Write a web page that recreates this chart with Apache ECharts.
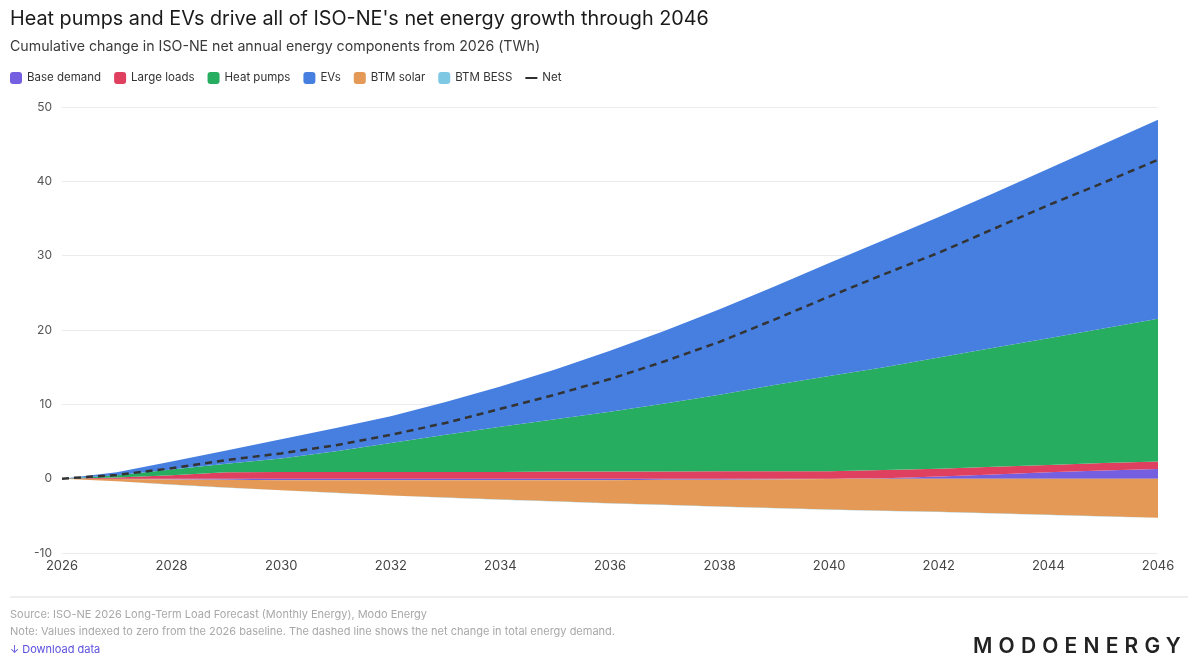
<!DOCTYPE html>
<html>
<head>
<meta charset="utf-8">
<script src="https://cdn.jsdelivr.net/npm/echarts@6/dist/echarts.min.js"></script>
<style>
html,body{margin:0;padding:0;background:#fff;}
#chart{width:1200px;height:664px;position:relative;}
#logo{position:absolute;left:973px;top:633px;font-family:Inter,sans-serif;font-weight:600;font-size:21px;letter-spacing:6.2px;color:#222;}
</style>
</head>
<body>
<div id="chart"></div>
<div id="logo">MODOENERGY</div>
<script>
const years = ['2026','2027','2028','2029','2030','2031','2032','2033','2034','2035','2036','2037','2038','2039','2040','2041','2042','2043','2044','2045','2046'];
const baseDemand = [0,-0.05,-0.1,-0.15,-0.2,-0.2,-0.2,-0.2,-0.2,-0.2,-0.2,-0.15,-0.15,-0.1,-0.05,0.05,0.3,0.55,0.85,1.1,1.3];
const largeLoads = [0,0.15,0.45,0.85,0.9,0.9,0.9,0.9,0.9,0.95,0.95,0.95,1.0,1.0,1.0,1.1,1.05,1.05,1.0,1.0,1.0];
const heatPumps = [0,0.3,0.8,1.15,1.8,2.8,3.9,5.0,6.1,7.05,8.05,9.15,10.3,11.6,12.8,13.85,14.95,16.0,17.05,18.1,19.2];
const evs = [0,0.4,1.05,1.8,2.6,3.1,3.6,4.4,5.4,6.7,8.2,9.8,11.5,13.25,15.2,17.1,18.9,20.8,22.8,24.8,26.8];
const btmSolar = [0,-0.3,-0.7,-1.05,-1.35,-1.7,-2.05,-2.35,-2.6,-2.85,-3.1,-3.35,-3.6,-3.85,-4.1,-4.3,-4.45,-4.65,-4.85,-5.05,-5.25];
const btmBess = [0,0,-0.01,-0.01,-0.02,-0.02,-0.02,-0.03,-0.03,-0.03,-0.03,-0.04,-0.04,-0.04,-0.04,-0.05,-0.05,-0.05,-0.05,-0.05,-0.05];
const net = [0,0.5,1.4,2.5,3.4,4.5,5.9,7.5,9.4,11.3,13.4,15.8,18.4,21.4,24.5,27.5,30.4,33.6,36.8,39.8,42.9];
const yTicks = {min:-10, max:50, interval:10};

const C = {bd:'#735fe0', ll:'#e04060', hp:'#27ad5f', ev:'#467fe0', solar:'#e49a56', bess:'#7ec8e3', net:'#333333'};
const FONT = 'Inter, sans-serif';

function area(name, data, color){
  return {name, type:'line', stack:'total', data, showSymbol:false, symbol:'none',
    lineStyle:{width:0, color}, itemStyle:{color}, areaStyle:{color, opacity:1}, emphasis:{disabled:true}};
}

const chart = echarts.init(document.getElementById('chart'), null, {renderer:'canvas'});
chart.setOption({
  animation:false,
  backgroundColor:'#fff',
  title:[
    {text:"Heat pumps and EVs drive all of ISO-NE's net energy growth through 2046", left:5, top:4,
     textStyle:{fontFamily:FONT, fontSize:19.8, fontWeight:400, color:'#1a1a1a'}},
    {text:'Cumulative change in ISO-NE net annual energy components from 2026 (TWh)', left:5, top:35,
     textStyle:{fontFamily:FONT, fontSize:14.2, fontWeight:400, color:'#3a3a3a'}}
  ],
  legend:{
    left:5, top:67, itemWidth:12, itemHeight:12, itemGap:13,
    textStyle:{fontFamily:FONT, fontSize:11.5, color:'#333'},
    data:[
      {name:'Base demand', icon:'roundRect'},
      {name:'Large loads', icon:'roundRect'},
      {name:'Heat pumps', icon:'roundRect'},
      {name:'EVs', icon:'roundRect'},
      {name:'BTM solar', icon:'roundRect'},
      {name:'BTM BESS', icon:'roundRect'},
      {name:'Net', icon:'path://M0,5 L16,5 L16,7.5 L0,7.5 Z', itemStyle:{color:'#222'}}
    ]
  },
  grid:{left:62, right:42, top:107, bottom:111, containLabel:false},
  xAxis:{type:'category', data:years, boundaryGap:false,
    axisLine:{show:false}, axisTick:{show:false},
    axisLabel:{interval:1, fontFamily:FONT, fontSize:13, color:'#444', margin:7},
    splitLine:{show:false}},
  yAxis:{type:'value', min:yTicks.min, max:yTicks.max, interval:yTicks.interval,
    axisLine:{show:false}, axisTick:{show:false},
    axisLabel:{fontFamily:FONT, fontSize:12, color:'#555', margin:10},
    splitLine:{lineStyle:{color:'#ececec', width:1}}},
  series:[
    area('Base demand', baseDemand, C.bd),
    area('Large loads', largeLoads, C.ll),
    area('Heat pumps', heatPumps, C.hp),
    area('EVs', evs, C.ev),
    area('BTM solar', btmSolar, C.solar),
    area('BTM BESS', btmBess, C.bess),
    {name:'Net', type:'line', data:net, showSymbol:false, symbol:'none', z:10,
     lineStyle:{color:C.net, width:2.5, type:[7,5]}, itemStyle:{color:'#222'}}
  ],
  graphic:[
    {type:'rect', left:10, top:596, shape:{width:1178, height:2}, style:{fill:'#eeeeee'}},
    {type:'text', left:10, top:609, style:{text:'Source: ISO-NE 2026 Long-Term Load Forecast (Monthly Energy), Modo Energy', font:'11px Inter, sans-serif', fill:'#a8a8a8'}},
    {type:'text', left:10, top:626, style:{text:'Note: Values indexed to zero from the 2026 baseline. The dashed line shows the net change in total energy demand.', font:'11px Inter, sans-serif', fill:'#a8a8a8'}},
    {type:'text', left:10, top:644, style:{text:'\u2193 Download data', font:'11px Inter, sans-serif', fill:'#5a4fdc'}}
  ]
});
</script>
</body>
</html>
